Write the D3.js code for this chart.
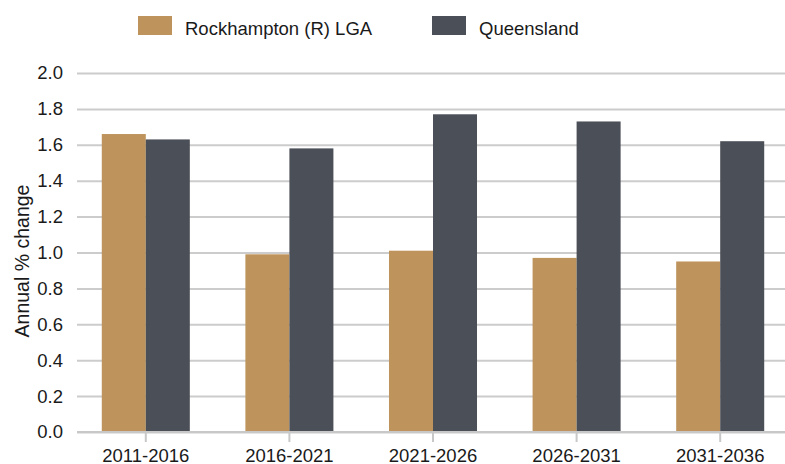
<!DOCTYPE html>
<html>
<head>
<meta charset="utf-8">
<script src="https://d3js.org/d3.v7.min.js"></script>
<style>
  body { margin: 0; background: #fff; }
  svg { font-family: "Liberation Sans", Arial, sans-serif; }
  .grid line { stroke: #cccccc; stroke-width: 2; }
  .grid .domain { display: none; }
  .x.axis line, .x.axis path { stroke: #c8c8c8; stroke-width: 2; }
  text { fill: #1a1a1a; }
</style>
</head>
<body>
<div id="chart"></div>
<script>
var periods = ['2011-2016', '2016-2021', '2021-2026', '2026-2031', '2031-2036'];
var seriesNames = ['Rockhampton (R) LGA', 'Queensland'];
var rockhampton = [1.66, 0.99, 1.01, 0.97, 0.95];
var queensland = [1.63, 1.58, 1.77, 1.73, 1.62];
var yTicks = [0, 0.2, 0.4, 0.6, 0.8, 1.0, 1.2, 1.4, 1.6, 1.8, 2.0];
var colors = ['#be945c', '#4b4f57'];

var width = 785, height = 464;
var margin = {top: 73, right: 0, bottom: 32, left: 77};
var plotW = width - margin.left - margin.right,
    plotH = height - margin.top - margin.bottom;

var svg = d3.select('#chart').append('svg')
  .attr('width', width)
  .attr('height', height);

var g = svg.append('g')
  .attr('transform', 'translate(' + margin.left + ',' + margin.top + ')');

var y = d3.scaleLinear().domain([0, 2]).range([plotH, 0]);

var x0 = d3.scaleBand()
  .domain(periods)
  .range([-3, 715])
  .paddingInner(0.387)
  .paddingOuter(0.1935);

var x1 = d3.scaleBand()
  .domain(seriesNames)
  .range([0, x0.bandwidth()]);

var rows = periods.map(function(p, i) {
  return {period: p, values: [rockhampton[i], queensland[i]]};
});

// grid + y labels
var yAxis = g.append('g')
  .attr('class', 'grid')
  .call(d3.axisLeft(y)
    .tickValues(yTicks)
    .tickSize(-plotW)
    .tickPadding(14)
    .tickFormat(d3.format('.1f')));
yAxis.selectAll('text')
  .style('font-size', '18.5px')
  .style('fill', '#1a1a1a');

// bars
var groups = g.selectAll('.bar-group')
  .data(rows)
  .enter().append('g')
  .attr('class', 'bar-group')
  .attr('transform', function(d) { return 'translate(' + x0(d.period) + ',0)'; });

groups.selectAll('rect')
  .data(function(d) { return d.values.map(function(v, i) { return {name: seriesNames[i], value: v, i: i}; }); })
  .enter().append('rect')
  .attr('x', function(d) { return x1(d.name); })
  .attr('y', function(d) { return y(d.value); })
  .attr('width', x1.bandwidth())
  .attr('height', function(d) { return plotH - y(d.value); })
  .attr('fill', function(d) { return colors[d.i]; });

// x axis
var xAxis = g.append('g')
  .attr('class', 'x axis')
  .attr('transform', 'translate(0,' + plotH + ')')
  .call(d3.axisBottom(x0).tickSize(10).tickSizeOuter(0).tickPadding(7));
xAxis.select('.domain').attr('d', 'M0,0H' + plotW);
xAxis.selectAll('text')
  .style('font-size', '18.5px')
  .style('fill', '#1a1a1a');

// y title
svg.append('text')
  .attr('transform', 'translate(29,261) rotate(-90)')
  .attr('text-anchor', 'middle')
  .style('font-size', '19.5px')
  .text('Annual % change');

// legend
var legendX = [138, 432];
var legend = svg.selectAll('.legend')
  .data(seriesNames)
  .enter().append('g')
  .attr('class', 'legend')
  .attr('transform', function(d, i) { return 'translate(' + legendX[i] + ',16)'; });

legend.append('rect')
  .attr('width', 34)
  .attr('height', 19)
  .attr('fill', function(d, i) { return colors[i]; });

legend.append('text')
  .attr('x', 47)
  .attr('y', 19)
  .style('font-size', '18.5px')
  .text(function(d) { return d; });
</script>
</body>
</html>
